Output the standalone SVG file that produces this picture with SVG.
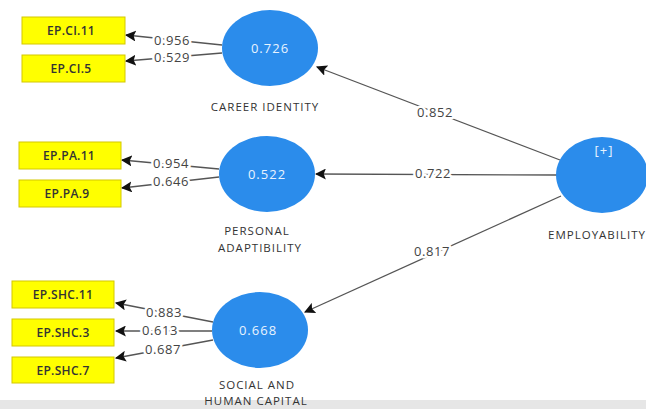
<svg xmlns="http://www.w3.org/2000/svg" width="646" height="409" viewBox="0 0 646 409">
<defs>
<style>
.box{fill:#ffff00;stroke:#d4c800;stroke-width:1}
.bt{font-family:"Open Sans","Liberation Sans",sans-serif;font-size:12px;fill:#333;text-anchor:middle;font-weight:600;letter-spacing:0.3px}
.lv{fill:#2b8ceb}
.ct{font-family:"Open Sans","Liberation Sans",sans-serif;font-size:13px;fill:#e8f3ff;text-anchor:middle;letter-spacing:1px}
.nl{font-family:"Open Sans","Liberation Sans",sans-serif;font-size:11.5px;fill:#333;text-anchor:middle;letter-spacing:1px}
.ln{stroke:#555;stroke-width:1.3;fill:none;marker-end:url(#ah)}
.wl{font-family:"Open Sans","Liberation Sans",sans-serif;font-size:13px;fill:#444;text-anchor:middle;stroke:#fff;stroke-width:5;paint-order:stroke;stroke-linejoin:round;letter-spacing:0.6px}
</style>
<marker id="ah" viewBox="0 0 10 10" refX="9" refY="5" markerWidth="11" markerHeight="11" markerUnits="userSpaceOnUse" orient="auto">
<path d="M0,0 L10,5 L0,10 L2,5 z" fill="#111"/>
</marker>
</defs>
<rect width="646" height="409" fill="#fff"/>
<g id="connectors">
<line class="ln" x1="222" y1="45" x2="126" y2="35"/>
<line class="ln" x1="222" y1="53" x2="126" y2="61"/>
<line class="ln" x1="219" y1="169" x2="122" y2="160"/>
<line class="ln" x1="219" y1="177" x2="122" y2="188"/>
<line class="ln" x1="213" y1="322" x2="116" y2="303"/>
<line class="ln" x1="212" y1="331" x2="116" y2="331"/>
<line class="ln" x1="213" y1="340" x2="116" y2="358"/>
<line class="ln" x1="560" y1="160" x2="317" y2="67"/>
<line class="ln" x1="557" y1="175" x2="316" y2="174"/>
<line class="ln" x1="561" y1="196" x2="305" y2="312"/>
<text class="wl" x="172" y="45">0.956</text>
<text class="wl" x="172" y="62">0.529</text>
<text class="wl" x="171" y="168">0.954</text>
<text class="wl" x="171" y="186">0.646</text>
<text class="wl" x="164" y="317">0.883</text>
<text class="wl" x="160" y="335">0.613</text>
<text class="wl" x="163" y="354">0.687</text>
<text class="wl" x="435" y="117">0.852</text>
<text class="wl" x="433" y="178">0.722</text>
<text class="wl" x="432" y="256">0.817</text>
</g>
<g id="ep-ci-11"><rect class="box" x="22" y="17" width="103" height="27"/><text class="bt" x="71" y="35">EP.CI.11</text></g>
<g id="ep-ci-5"><rect class="box" x="22" y="55" width="103" height="27"/><text class="bt" x="71" y="73">EP.CI.5</text></g>
<g id="ep-pa-11"><rect class="box" x="19" y="142" width="102" height="27"/><text class="bt" x="69" y="160">EP.PA.11</text></g>
<g id="ep-pa-9"><rect class="box" x="19" y="180" width="102" height="27"/><text class="bt" x="67" y="198">EP.PA.9</text></g>
<g id="ep-shc-11"><rect class="box" x="12" y="281" width="102" height="27"/><text class="bt" x="63" y="299">EP.SHC.11</text></g>
<g id="ep-shc-3"><rect class="box" x="12" y="319" width="102" height="27"/><text class="bt" x="63" y="337">EP.SHC.3</text></g>
<g id="ep-shc-7"><rect class="box" x="12" y="357" width="102" height="26"/><text class="bt" x="63" y="375">EP.SHC.7</text></g>
<rect x="0" y="400" width="646" height="9" fill="#e6e6e6"/>
<g id="career-identity"><ellipse class="lv" cx="270" cy="48" rx="48" ry="38"/><text class="ct" x="270" y="53">0.726</text><text class="nl" x="265" y="111">CAREER IDENTITY</text></g>
<g id="personal-adaptibility"><ellipse class="lv" cx="267" cy="174" rx="48" ry="38"/><text class="ct" x="267" y="179">0.522</text><text class="nl" x="257" y="235">PERSONAL</text><text class="nl" x="260" y="252">ADAPTIBILITY</text></g>
<g id="social-human-capital"><ellipse class="lv" cx="260" cy="330" rx="48" ry="38"/><text class="ct" x="258" y="335">0.668</text><text class="nl" x="257" y="389" font-size="11">SOCIAL AND</text><text class="nl" x="256" y="405" font-size="11">HUMAN CAPITAL</text></g>
<g id="employability"><ellipse class="lv" cx="602" cy="175" rx="46" ry="38"/><text class="ct" x="604" y="155" font-size="11">[+]</text><text class="nl" x="597" y="239">EMPLOYABILITY</text></g>
</svg>
